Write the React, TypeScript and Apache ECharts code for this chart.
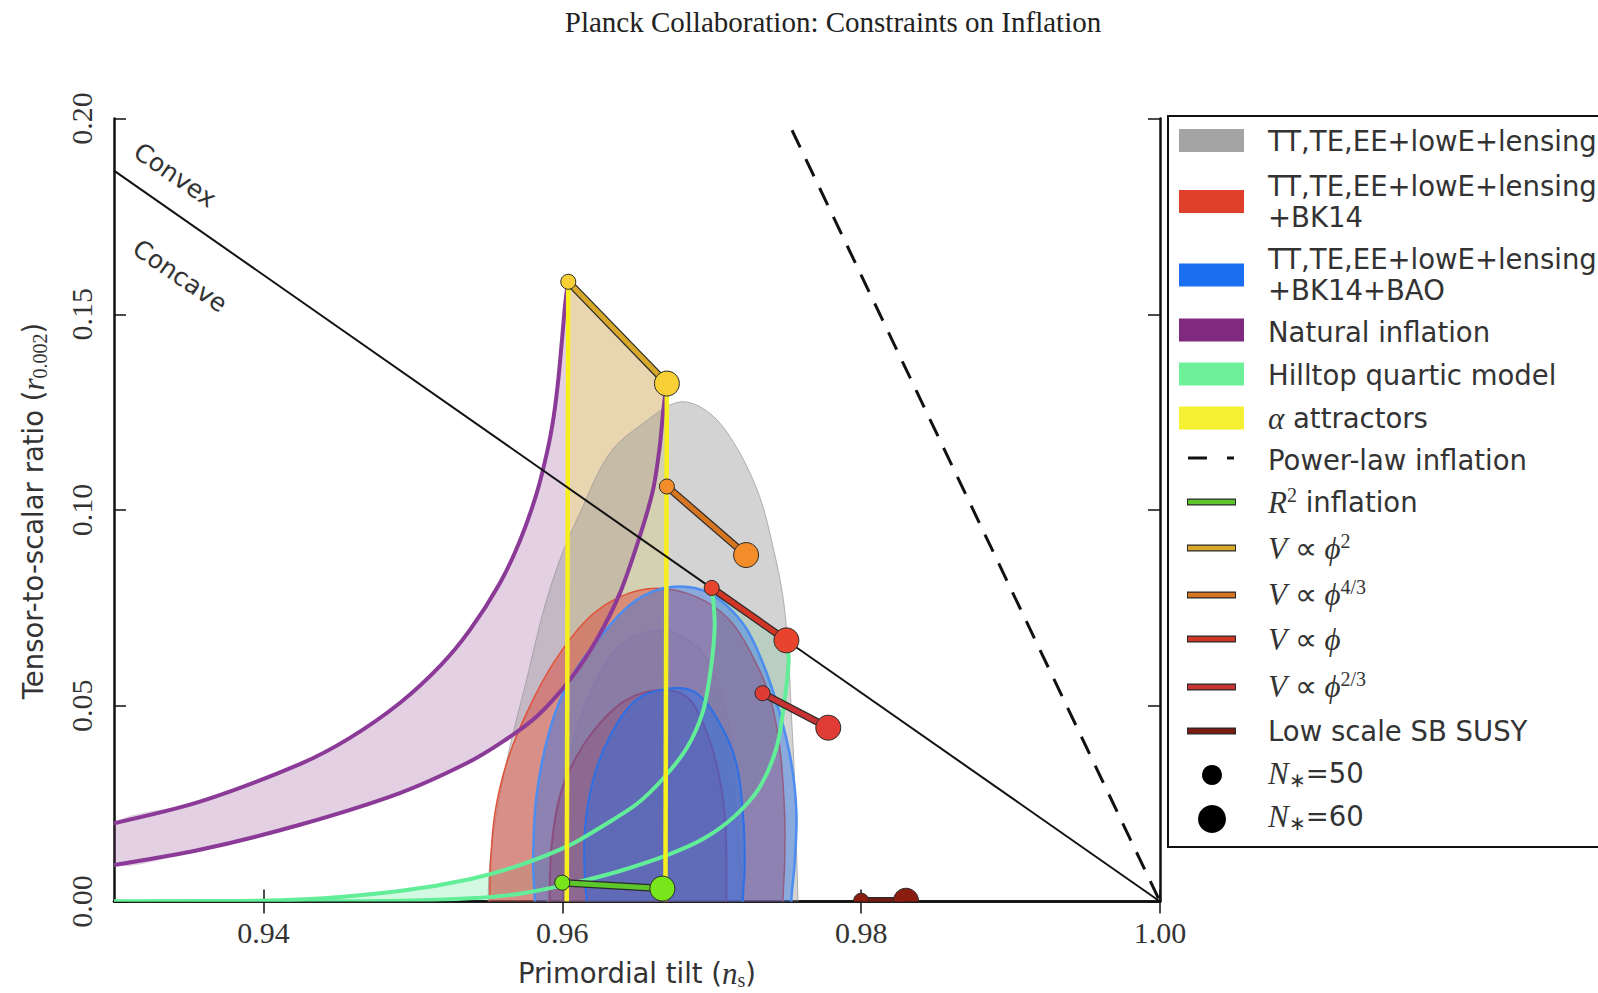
import React, { useEffect, useRef } from "react";
import * as echarts from "echarts";

type P = [number, number];

const TITLE = "Planck Collaboration: Constraints on Inflation";
const X_TICKS = [0.94, 0.96, 0.98, 1.0];
const Y_TICKS = [0, 0.05, 0.1, 0.15, 0.2];

// Planck contours (ns, r)
const grayOuter: P[] = [[0.95504,-0.01],[0.95504,0.0004],[0.95515,0.0098],[0.9556,0.0226],[0.95649,0.0395],[0.95761,0.0566],[0.9587,0.0737],[0.95983,0.0872],[0.96117,0.0992],[0.96318,0.1145],[0.9654,0.1221],[0.96786,0.1276],[0.96987,0.1247],[0.97165,0.1161],[0.97321,0.1034],[0.9741,0.0906],[0.97477,0.0778],[0.9751,0.0651],[0.97533,0.0481],[0.97555,0.031],[0.97567,0.014],[0.97577,0.0004],[0.97577,-0.01]];
const grayInner: P[] = [[0.95903,-0.01],[0.95903,0.0004],[0.95916,0.0098],[0.95983,0.0268],[0.96095,0.0438],[0.96229,0.0566],[0.96385,0.0651],[0.96652,0.0693],[0.96898,0.0651],[0.97031,0.0566],[0.9712,0.0438],[0.97165,0.0226],[0.97199,0.0055],[0.97207,0.0004],[0.97207,-0.01]];
const redOuter: P[] = [[0.95515,-0.01],[0.95515,0.0004],[0.9552,0.0098],[0.95549,0.0225],[0.95627,0.0353],[0.95761,0.0481],[0.95939,0.0608],[0.96162,0.0719],[0.96385,0.0778],[0.9663,0.08],[0.96898,0.0778],[0.9712,0.0719],[0.97276,0.0625],[0.97388,0.0523],[0.97455,0.0395],[0.97488,0.0225],[0.97488,0.0098],[0.97477,0.0004],[0.97477,-0.01]];
const redInner: P[] = [[0.95916,-0.01],[0.95916,0.0004],[0.95928,0.014],[0.95983,0.0268],[0.96095,0.037],[0.96251,0.0455],[0.96429,0.0515],[0.96652,0.054],[0.96831,0.0523],[0.96942,0.0455],[0.97031,0.0353],[0.97087,0.0225],[0.97098,0.0098],[0.97098,0.0004],[0.97098,-0.01]];
const blueOuter: P[] = [[0.95816,-0.01],[0.95816,0.0004],[0.95805,0.0098],[0.95827,0.0268],[0.95916,0.0438],[0.9605,0.0566],[0.96273,0.0685],[0.96496,0.077],[0.96741,0.0804],[0.96987,0.0787],[0.97209,0.071],[0.97343,0.0608],[0.97455,0.0481],[0.97533,0.0353],[0.97567,0.0225],[0.97555,0.0098],[0.97533,0.0004],[0.97533,-0.01]];
const blueInner: P[] = [[0.96162,-0.01],[0.96162,0.0004],[0.96151,0.0055],[0.96151,0.0183],[0.96206,0.031],[0.96318,0.0421],[0.96496,0.0515],[0.96719,0.0544],[0.96898,0.0532],[0.97054,0.0455],[0.97165,0.0353],[0.97209,0.0225],[0.97221,0.0098],[0.97209,0.0004],[0.97209,-0.01]];

// Model predictions
const naturalN50: P[] = [[0.93,0.02],[0.93575,0.0255],[0.94244,0.0351],[0.94579,0.0418],[0.94913,0.0507],[0.95181,0.0601],[0.95381,0.0693],[0.95582,0.0813],[0.95716,0.0921],[0.95829,0.1043],[0.95903,0.1156],[0.95943,0.124],[0.95973,0.1332],[0.95997,0.143],[0.9602,0.1528],[0.96039,0.1583]];
const naturalN60: P[] = [[0.93,0.0093],[0.93575,0.0132],[0.94244,0.0196],[0.94913,0.0277],[0.95359,0.0353],[0.95604,0.0409],[0.95827,0.0472],[0.9605,0.0566],[0.96229,0.0668],[0.96385,0.0787],[0.96518,0.0932],[0.96607,0.1051],[0.96652,0.1161],[0.96674,0.1247],[0.96697,0.1323]];
const hilltopN50: P[] = [[0.93,0],[0.93575,0.0001],[0.94244,0.0005],[0.94913,0.0027],[0.95381,0.0057],[0.95716,0.0093],[0.9605,0.0144],[0.96271,0.0193],[0.96498,0.0249],[0.96672,0.0313],[0.96833,0.0392],[0.9694,0.0484],[0.96993,0.0591],[0.9702,0.0706],[0.97002,0.08]];
const hilltopN60: P[] = [[0.93,0],[0.94244,0.00005],[0.94913,0.0002],[0.95381,0.0008],[0.95716,0.002],[0.9605,0.0045],[0.96385,0.0078],[0.96719,0.0121],[0.96953,0.0162],[0.97154,0.0218],[0.97321,0.0292],[0.97435,0.0395],[0.97488,0.0515],[0.97515,0.0617],[0.975,0.0668]];
const alphaN50: P[] = [[0.9603,0],[0.9604,0.1583]];
const alphaN60: P[] = [[0.9669,0],[0.967,0.1323]];
const convexLine: P[] = [[0.93,0.1867],[1.0,0]];
const powerLaw: P[] = [[0.975,0.2],[1.0,0]];

const r2: P[] = [[0.96,0.0048],[0.9667,0.0033]];
const phi2: P[] = [[0.9604,0.1583],[0.967,0.1323]];
const phi43: P[] = [[0.967,0.106],[0.9723,0.0885]];
const phi1: P[] = [[0.97,0.0801],[0.975,0.0667]];
const phi23: P[] = [[0.9734,0.0532],[0.9778,0.0444]];
const sbSusy: P[] = [[0.98,0.0002],[0.983,0.0002]];

const SANS = "DejaVu Sans";
const SERIF = "Liberation Serif";
const TXT = "#333";

function polySeries(pts: P[], fill: string, stroke: string, lw: number, smooth = 0.35) {
  const mid = pts[Math.floor(pts.length / 2)];
  return {
    type: "custom", clip: true, silent: true,
    data: [[mid[0], mid[1]]],
    renderItem: (_p: any, api: any) => ({
      type: "polygon",
      shape: { points: pts.map((p) => api.coord(p)), smooth },
      style: { fill, stroke, lineWidth: lw },
    }),
  };
}
function curveSeries(pts: P[], stroke: string, lw: number, smooth = 0.3) {
  const mid = pts[Math.floor(pts.length / 2)];
  return {
    type: "custom", clip: true, silent: true,
    data: [[mid[0], mid[1]]],
    renderItem: (_p: any, api: any) => ({
      type: "polyline",
      shape: { points: pts.map((p) => api.coord(p)), smooth },
      style: { fill: "none", stroke, lineWidth: lw },
    }),
  };
}
function modelSeries(pts: P[], line: string, dot: string) {
  return [
    { type: "line", data: pts, showSymbol: false, silent: true, lineStyle: { color: "#2a2a2a", width: 7.5 } },
    {
      type: "line", data: pts, silent: true, symbol: "circle",
      symbolSize: (_v: any, p: any) => (p.dataIndex === 0 ? 15 : 25),
      lineStyle: { color: line, width: 5 },
      itemStyle: { color: dot, borderColor: "#2a2a2a", borderWidth: 1 },
    },
  ];
}
function susySeries(pts: P[], line: string, dot: string) {
  return {
    type: "custom", clip: true, silent: true,
    data: [[pts[0][0], 0.01]],
    renderItem: (_p: any, api: any) => {
      const a = api.coord(pts[0]);
      const b = api.coord(pts[1]);
      return {
        type: "group",
        children: [
          { type: "line", shape: { x1: a[0], y1: a[1], x2: b[0], y2: b[1] }, style: { stroke: "#2a2a2a", lineWidth: 7.5 } },
          { type: "line", shape: { x1: a[0], y1: a[1], x2: b[0], y2: b[1] }, style: { stroke: line, lineWidth: 5 } },
          { type: "circle", shape: { cx: a[0], cy: a[1], r: 7.5 }, style: { fill: dot, stroke: "#2a2a2a", lineWidth: 1 } },
          { type: "circle", shape: { cx: b[0], cy: b[1], r: 12.5 }, style: { fill: dot, stroke: "#2a2a2a", lineWidth: 1 } },
        ],
      };
    },
  };
}

const mathRich = {
  t: { fontFamily: SANS, fontSize: 27.5, fill: TXT, color: TXT, lineHeight: 34 },
  m: { fontFamily: SERIF, fontStyle: "italic", fontSize: 31, fill: TXT, color: TXT, lineHeight: 34 },
  r: { fontFamily: SERIF, fontSize: 31, fill: TXT, color: TXT, lineHeight: 34 },
  sup: { fontFamily: SERIF, fontSize: 20, fill: TXT, color: TXT, verticalAlign: "top", lineHeight: 20 },
  sub: { fontFamily: SERIF, fontSize: 20, fill: TXT, color: TXT, verticalAlign: "bottom", lineHeight: 20 },
};

function legendText(y: number, text: string) {
  return {
    type: "text", x: 1268, y, silent: true,
    style: { text, rich: mathRich, fontFamily: SANS, fontSize: 27.5, fill: TXT, align: "left", verticalAlign: "middle" },
  };
}
function legendPatch(y: number, color: string) {
  return { type: "rect", shape: { x: 1179, y: y - 11.5, width: 65, height: 23 }, style: { fill: color }, silent: true };
}
function legendLine(y: number, color: string) {
  return [
    { type: "line", shape: { x1: 1187, y1: y, x2: 1236, y2: y }, style: { stroke: "#2a2a2a", lineWidth: 7 }, silent: true },
    { type: "line", shape: { x1: 1188, y1: y, x2: 1235, y2: y }, style: { stroke: color, lineWidth: 4.5 }, silent: true },
  ];
}

const rev = (a: P[]) => a.slice().reverse();

export default function App() {
  const ref = useRef<HTMLDivElement>(null);
  useEffect(() => {
    const chart = echarts.init(ref.current!, null, { renderer: "svg" });
    const axisCommon = {
      type: "value",
      splitLine: { show: false },
      axisLine: { show: true, lineStyle: { color: "#111", width: 2.5 } },
      axisTick: { show: true, inside: true, length: 12, lineStyle: { color: "#111", width: 1.5 } },
    };
    const option: any = {
      animation: false,
      backgroundColor: "#fff",
      grid: { left: 114, right: 438, top: 118.5, bottom: 91.5, containLabel: false },
      xAxis: [
        {
          ...axisCommon, position: "bottom", min: 0.93, max: 1.0,
          axisTick: { ...axisCommon.axisTick, customValues: X_TICKS },
          axisLabel: { customValues: X_TICKS, margin: 16, fontFamily: SERIF, fontSize: 30, color: TXT, formatter: (v: number) => v.toFixed(2) },
        },
        {
          ...axisCommon, position: "top", min: 0.93, max: 1.0,
          axisTick: { ...axisCommon.axisTick, customValues: X_TICKS },
          axisLabel: { show: false },
        },
      ],
      yAxis: [
        {
          ...axisCommon, position: "left", min: 0, max: 0.2, interval: 0.05,
          axisTick: { ...axisCommon.axisTick, customValues: Y_TICKS },
          axisLabel: { customValues: Y_TICKS, rotate: 90, margin: 18, fontFamily: SERIF, fontSize: 30, color: TXT, formatter: (v: number) => v.toFixed(2) },
        },
        {
          ...axisCommon, position: "right", min: 0, max: 0.2, interval: 0.05,
          axisTick: { ...axisCommon.axisTick, customValues: Y_TICKS },
          axisLabel: { show: false },
        },
      ],
      series: [
        polySeries([...naturalN50, ...rev(naturalN60)], "rgba(128,40,128,0.22)", "none", 0, 0.3),
        polySeries([...hilltopN50, ...rev(hilltopN60)], "rgba(100,235,150,0.28)", "none", 0, 0.3),
        polySeries([alphaN50[0], alphaN50[1], alphaN60[1], alphaN60[0]], "rgba(255,238,0,0.22)", "none", 0, 0),
        polySeries(grayOuter, "rgba(150,150,150,0.42)", "rgba(150,150,150,0.7)", 1),
        polySeries(grayInner, "rgba(150,150,150,0.15)", "rgba(190,190,190,1)", 2),
        polySeries(redOuter, "rgba(222,60,45,0.45)", "#e0523a", 1.5),
        polySeries(redInner, "rgba(222,60,45,0.45)", "#d23a34", 2),
        polySeries(blueOuter, "rgba(30,110,240,0.4)", "#4d8df0", 2.5),
        polySeries(blueInner, "rgba(30,110,240,0.4)", "#2c6fe6", 2),
        curveSeries(naturalN50, "#8b3a97", 4),
        curveSeries(naturalN60, "#8b3a97", 4),
        curveSeries(hilltopN50, "#62ee98", 4),
        curveSeries(hilltopN60, "#62ee98", 4),
        curveSeries(alphaN50, "#f7ef1d", 4.5, 0),
        curveSeries(alphaN60, "#f7ef1d", 4.5, 0),
        { type: "line", data: convexLine, showSymbol: false, silent: true, lineStyle: { color: "#111", width: 2 } },
        { type: "line", data: powerLaw, showSymbol: false, silent: true, lineStyle: { color: "#111", width: 3, type: [19, 13], dashOffset: 19 } },
        ...modelSeries(r2, "#5cc62a", "#77e61a"),
        ...modelSeries(phi2, "#d8a82a", "#f8cf35"),
        ...modelSeries(phi43, "#d67520", "#f28d2a"),
        ...modelSeries(phi1, "#d03526", "#e8432c"),
        ...modelSeries(phi23, "#c83232", "#e03c35"),
        susySeries(sbSusy, "#7a1a10", "#8a1c10"),
      ],
      graphic: {
        elements: [
          { type: "text", x: 833, y: 22, silent: true, style: { text: TITLE, fontFamily: SERIF, fontSize: 29, fill: "#222", align: "center", verticalAlign: "middle" } },
          {
            type: "text", x: 637, y: 973, silent: true,
            style: { text: "{t|Primordial tilt }{t|(}{m|n}{sub|s}{t|)}", rich: mathRich, align: "center", verticalAlign: "middle" },
          },
          {
            type: "text", x: 33, y: 511, rotation: Math.PI / 2, silent: true,
            style: { text: "{t|Tensor-to-scalar ratio }{t|(}{m|r}{sub|0.002}{t|)}", rich: mathRich, align: "center", verticalAlign: "middle" },
          },
          { type: "text", x: 175, y: 175, rotation: -0.6, silent: true, style: { text: "Convex", fontFamily: SANS, fontSize: 25, fill: TXT, align: "center", verticalAlign: "middle" } },
          { type: "text", x: 180, y: 276, rotation: -0.6, silent: true, style: { text: "Concave", fontFamily: SANS, fontSize: 25, fill: TXT, align: "center", verticalAlign: "middle" } },
          { type: "rect", shape: { x: 1168, y: 116, width: 470, height: 731 }, style: { fill: "#fff", stroke: "#111", lineWidth: 2 }, silent: true },
          legendPatch(140.5, "#a4a4a4"),
          legendPatch(201.5, "#e0402a"),
          legendPatch(275, "#1a6ef0"),
          legendPatch(330, "#7f2a7f"),
          legendPatch(374, "#6ef09a"),
          legendPatch(418, "#f5f032"),
          { type: "line", shape: { x1: 1188, y1: 458, x2: 1207, y2: 458 }, style: { stroke: "#111", lineWidth: 3 }, silent: true },
          { type: "line", shape: { x1: 1227, y1: 458, x2: 1234, y2: 458 }, style: { stroke: "#111", lineWidth: 3 }, silent: true },
          ...legendLine(502, "#5cc62a"),
          ...legendLine(548, "#d8a82a"),
          ...legendLine(595, "#d67520"),
          ...legendLine(639, "#d03526"),
          ...legendLine(687, "#c83232"),
          ...legendLine(731, "#7a1a10"),
          { type: "circle", shape: { cx: 1212, cy: 775, r: 10 }, style: { fill: "#000" }, silent: true },
          { type: "circle", shape: { cx: 1212, cy: 819, r: 14 }, style: { fill: "#000" }, silent: true },
          legendText(141, "{t|TT,TE,EE+lowE+lensing}"),
          legendText(186, "{t|TT,TE,EE+lowE+lensing}"),
          legendText(217, "{t|+BK14}"),
          legendText(259, "{t|TT,TE,EE+lowE+lensing}"),
          legendText(290, "{t|+BK14+BAO}"),
          legendText(332, "{t|Natural inflation}"),
          legendText(375, "{t|Hilltop quartic model}"),
          legendText(418, "{m|α}{t| attractors}"),
          legendText(460, "{t|Power-law inflation}"),
          legendText(502, "{m|R}{sup|2}{t| inflation}"),
          legendText(548, "{m|V }{r|∝ }{m|ϕ}{sup|2}"),
          legendText(594, "{m|V }{r|∝ }{m|ϕ}{sup|4/3}"),
          legendText(639, "{m|V }{r|∝ }{m|ϕ}"),
          legendText(686, "{m|V }{r|∝ }{m|ϕ}{sup|2/3}"),
          legendText(731, "{t|Low scale SB SUSY}"),
          legendText(773, "{m|N}{sub|∗}{t|=50}"),
          legendText(816, "{m|N}{sub|∗}{t|=60}"),
        ],
      },
    };
    chart.setOption(option);
    return () => chart.dispose();
  }, []);
  return <div ref={ref} style={{ position: "absolute", left: 0, top: 0, width: 1598, height: 993, background: "#fff" }} />;
}
